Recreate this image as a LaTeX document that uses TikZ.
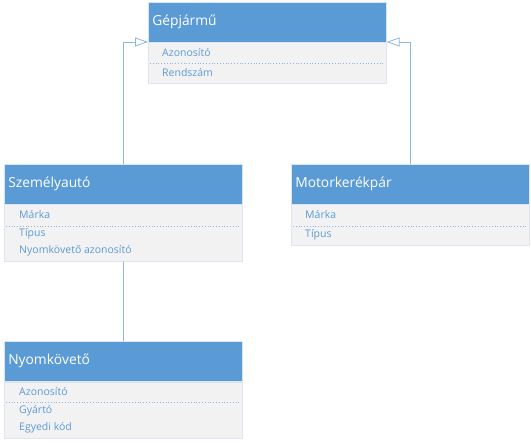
\documentclass[tikz,border=0pt]{standalone}
\usepackage{fontspec}
\setmainfont{Open Sans}
\usetikzlibrary{arrows.meta}
\definecolor{hblue}{HTML}{5B9BD5}
\definecolor{bgray}{HTML}{F2F2F2}
\definecolor{lineblue}{HTML}{8DB4E2}
\definecolor{edge}{HTML}{DCE6F2}
\tikzset{
  x=1pt, y=-1pt,
  hdr/.style={rectangle, fill=hblue, draw=edge, line width=0.6pt, text=white, anchor=north west,
    minimum height=40pt, text width=230pt, inner xsep=4pt, inner ysep=0pt, align=left,
    font=\fontsize{13.8}{16}\selectfont},
  bodybox/.style={rectangle, fill=bgray, draw=edge, line width=0.6pt, anchor=north west,
    minimum width=238pt, inner sep=0pt},
  item/.style={anchor=west, text=hblue, inner sep=0pt, font=\fontsize{10.5}{12}\selectfont},
  sep/.style={draw=lineblue, dotted, line width=0.8pt},
  conn/.style={draw=lineblue, line width=0.8pt},
  inh/.style={conn, -{Triangle[open, length=13pt, width=9pt, fill=white]}},
}
\begin{document}
\begin{tikzpicture}
\useasboundingbox (0,0) rectangle (531,443);
% Gepjarmu
\node[hdr] (gh) at (148,2) {Gépjármű};
\node[bodybox, minimum height=41pt] (gb) at (148,42) {};
\node[item] (g1) at (162,53) {Azonosító};
\draw[sep] (150,63) -- (384,63);
\node[item] (g2) at (162,73) {Rendszám};
% Szemelyauto
\node[hdr] (sh) at (4,164) {Személyautó};
\node[bodybox, minimum height=57pt] (sb) at (4,204) {};
\node[item] (s1) at (19,215) {Márka};
\draw[sep] (6,226) -- (240,226);
\node[item] (s2) at (19,234) {Típus};
\node[item] (s3) at (19,251) {Nyomkövető azonosító};
% Motorkerekpar
\node[hdr] (mh) at (291,164) {Motorkerékpár};
\node[bodybox, minimum height=41pt] (mb) at (291,204) {};
\node[item] (m1) at (305,215) {Márka};
\draw[sep] (293,226) -- (527,226);
\node[item] (m2) at (305,235) {Típus};
% Nyomkoveto
\node[hdr] (nh) at (4,341) {Nyomkövető};
\node[bodybox, minimum height=56pt] (nb) at (4,382) {};
\node[item] (n1) at (19,392) {Azonosító};
\draw[sep] (6,402) -- (240,402);
\node[item] (n2) at (19,411) {Gyártó};
\node[item] (n3) at (19,428) {Egyedi kód};
% connectors
\draw[inh] (sh.north) |- (gb.north west);
\draw[inh] (mh.north) |- (gb.north east);
\draw[conn] (sb.south) -- (nh.north);
\end{tikzpicture}
\end{document}
